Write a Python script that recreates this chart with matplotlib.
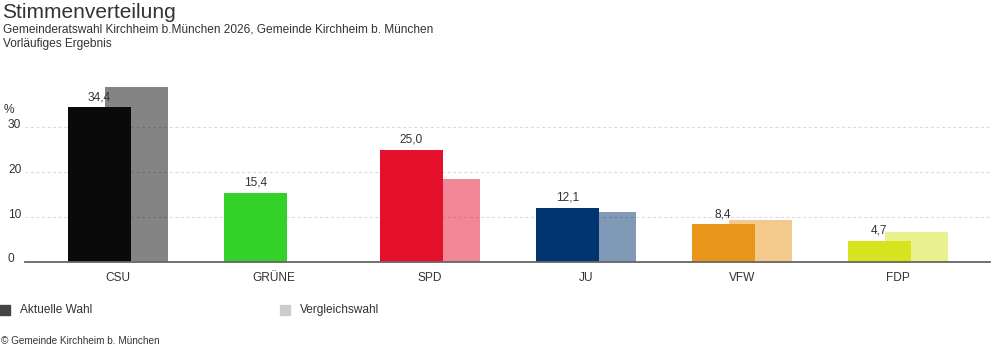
import numpy as np
import matplotlib.pyplot as plt
from matplotlib.patches import Rectangle

plt.rcParams['font.family'] = ['Liberation Sans', 'DejaVu Sans']

parties = ["CSU", "GRÜNE", "SPD", "JU", "VFW", "FDP"]
current = [34.4, 15.4, 25.0, 12.1, 8.4, 4.7]
previous = [38.9, 0.0, 18.4, 11.1, 9.3, 6.7]
colors = ["#0a0a0a", "#32d22a", "#e5102b", "#00346e", "#e8961a", "#d5e41f"]
yticks = [0, 10, 20, 30]

txt = "#333333"
W, H = 992, 352
fig = plt.figure(figsize=(W / 100, H / 100), dpi=100)
ax = fig.add_axes([25/W, 90/H, 965/W, 180/H])

x = np.arange(len(parties))
w = 0.404
off = 0.12
ax.bar(x + off, previous, w, color=colors, alpha=0.5, zorder=2)
ax.bar(x - off, current, w, color=colors, zorder=3)
for xi, v in zip(x, current):
    ax.text(xi - off, v + 0.9, f"{v:.1f}".replace(".", ","), ha="center", va="bottom",
            fontsize=8.6, color=txt, zorder=4)

ax.set_xlim(-0.596, 5.59)
ax.set_ylim(0, 40)
ax.set_yticks(yticks)
ax.set_yticklabels([])
ax.tick_params(length=0)
ax.grid(axis="y", color="#d9d9d9", linestyle=(0, (2.5, 2.5)), linewidth=0.8, zorder=0)
for s in ["top", "right", "left"]:
    ax.spines[s].set_visible(False)
ax.spines["bottom"].set_color("#666666")
ax.spines["bottom"].set_linewidth(1.3)
ax.spines["bottom"].set_zorder(5)
ax.set_xticks(x)
ax.set_xticklabels(parties, fontsize=8.6, color=txt)
ax.tick_params(axis="x", pad=7)

# y labels sit at the left edge of the figure
for t in yticks:
    ypix = 262 - t * 4.5 - (3 if t == 0 else 2)
    fig.text(8/W, 1 - ypix / H, str(t), fontsize=8.6, color=txt, va="center", ha="left")
fig.text(4/W, 1 - 110/H, "%", fontsize=8.6, color=txt, va="center", ha="left")

fig.text(2/W, 1 - 12/H, "Stimmenverteilung", fontsize=15, color=txt, va="center")
fig.text(3/W, 1 - 30/H, "Gemeinderatswahl Kirchheim b.München 2026, Gemeinde Kirchheim b. München",
         fontsize=8.6, color=txt, va="center")
fig.text(3/W, 1 - 44/H, "Vorläufiges Ergebnis", fontsize=8.6, color=txt, va="center")

fig.patches.append(Rectangle((0, 1 - 315/H), 10/W, 10/H, transform=fig.transFigure,
                             color="#444444", figure=fig))
fig.text(20/W, 1 - 310/H, "Aktuelle Wahl", fontsize=8.6, color=txt, va="center")
fig.patches.append(Rectangle((280/W, 1 - 315/H), 10/W, 10/H, transform=fig.transFigure,
                             color="#cccccc", figure=fig))
fig.text(300/W, 1 - 310/H, "Vergleichswahl", fontsize=8.6, color=txt, va="center")
fig.text(1/W, 1 - 341/H, "© Gemeinde Kirchheim b. München", fontsize=7.2, color=txt, va="center")

fig.savefig("out.png", dpi=100)
